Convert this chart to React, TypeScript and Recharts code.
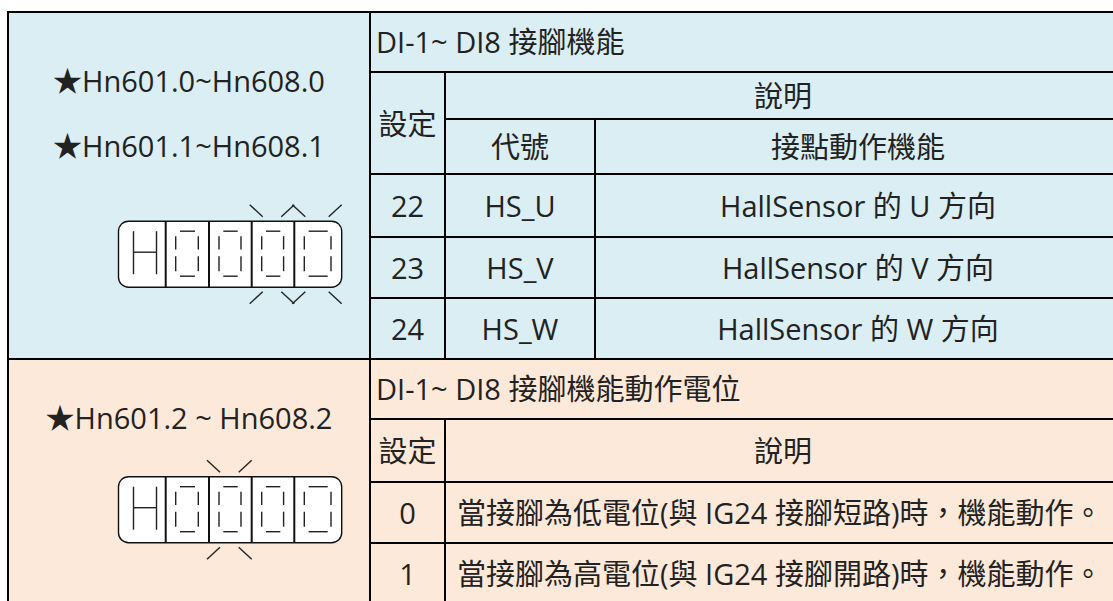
import { ComposedChart, ReferenceArea, ReferenceLine, Scatter, XAxis, YAxis } from "recharts";

const W = 1113;
const H = 601;
const FONT = "'Open Sans', 'Noto Sans CJK TC', sans-serif";
const INK = "#222";

// table content
const upperParams = ["★Hn601.0~Hn608.0", "★Hn601.1~Hn608.1"];
const lowerParams = ["★Hn601.2 ~ Hn608.2"];
const upperTitle = "DI-1~ DI8 接腳機能";
const lowerTitle = "DI-1~ DI8 接腳機能動作電位";
const setHeader = "設定";
const descHeader = "說明";
const codeHeader = "代號";
const funcHeader = "接點動作機能";
const pinSettings = ["22", "23", "24"];
const pinCodes = ["HS_U", "HS_V", "HS_W"];
const pinFunctions = ["HallSensor 的 U 方向", "HallSensor 的 V 方向", "HallSensor 的 W 方向"];
const levelSettings = ["0", "1"];
const levelDescs = [
  "當接腳為低電位(與 IG24 接腳短路)時，機能動作。",
  "當接腳為高電位(與 IG24 接腳開路)時，機能動作。",
];
const panelDigits = ["H", "0", "0", "0", "0"];
const upperBlink = [3, 4];
const lowerBlink = [2];

// grid layout (page px)
const colX = [8, 370, 445, 595, 1121];
const rowY = [12, 72, 119, 174, 237, 298, 359, 419, 482, 543, 604];
const upperParamY = [80, 145];
const lowerParamY = [417];
const panelX = 230.1;
const panelY = [254.2, 509.7];

const mid = (a: number, b: number) => (a + b) / 2;

type Txt = { x: number; y: number; text: string; anchor: "start" | "middle" };

const texts: Txt[] = [
  ...upperParams.map((t, i) => ({ x: mid(colX[0], colX[1]), y: upperParamY[i], text: t, anchor: "middle" as const })),
  ...lowerParams.map((t, i) => ({ x: mid(colX[0], colX[1]), y: lowerParamY[i], text: t, anchor: "middle" as const })),
  { x: colX[1] + 6, y: mid(rowY[0], rowY[1]) - 1, text: upperTitle, anchor: "start" },
  { x: mid(colX[1], colX[2]), y: mid(rowY[1], rowY[3]), text: setHeader, anchor: "middle" },
  { x: mid(colX[2], colX[4]), y: mid(rowY[1], rowY[2]), text: descHeader, anchor: "middle" },
  { x: mid(colX[2], colX[3]), y: mid(rowY[2], rowY[3]), text: codeHeader, anchor: "middle" },
  { x: mid(colX[3], colX[4]), y: mid(rowY[2], rowY[3]), text: funcHeader, anchor: "middle" },
  ...pinSettings.flatMap((s, i) => {
    const y = mid(rowY[3 + i], rowY[4 + i]);
    return [
      { x: mid(colX[1], colX[2]), y, text: s, anchor: "middle" as const },
      { x: mid(colX[2], colX[3]), y, text: pinCodes[i], anchor: "middle" as const },
      { x: mid(colX[3], colX[4]), y, text: pinFunctions[i], anchor: "middle" as const },
    ];
  }),
  { x: colX[1] + 6, y: mid(rowY[6], rowY[7]) - 1, text: lowerTitle, anchor: "start" },
  { x: mid(colX[1], colX[2]), y: mid(rowY[7], rowY[8]), text: setHeader, anchor: "middle" },
  { x: mid(colX[2], colX[4]), y: mid(rowY[7], rowY[8]), text: descHeader, anchor: "middle" },
  ...levelSettings.flatMap((s, i) => {
    const y = mid(rowY[8 + i], rowY[9 + i]);
    return [
      { x: mid(colX[1], colX[2]), y, text: s, anchor: "middle" as const },
      { x: colX[2] + 12, y, text: levelDescs[i], anchor: "start" as const },
    ];
  }),
];

const panels = [
  { x: panelX, y: panelY[0], blink: upperBlink },
  { x: panelX, y: panelY[1], blink: lowerBlink },
];

// border segments: [x1, y1, x2, y2]
const borders: number[][] = [
  [colX[0] - 1, rowY[0], colX[4], rowY[0]],
  [colX[0], rowY[0], colX[0], rowY[10]],
  [colX[1], rowY[0], colX[1], rowY[10]],
  [colX[1], rowY[1], colX[4], rowY[1]],
  [colX[2], rowY[2], colX[4], rowY[2]],
  [colX[1], rowY[3], colX[4], rowY[3]],
  [colX[1], rowY[4], colX[4], rowY[4]],
  [colX[1], rowY[5], colX[4], rowY[5]],
  [colX[0], rowY[6], colX[4], rowY[6]],
  [colX[2], rowY[1], colX[2], rowY[6]],
  [colX[3], rowY[2], colX[3], rowY[6]],
  [colX[1], rowY[7], colX[4], rowY[7]],
  [colX[1], rowY[8], colX[4], rowY[8]],
  [colX[1], rowY[9], colX[4], rowY[9]],
  [colX[2], rowY[7], colX[2], rowY[10]],
];

const TextShape = (p: any) => (
  <text
    x={p.cx}
    y={p.cy}
    lang="zh-Hant-TW"
    textAnchor={p.payload.anchor}
    dominantBaseline="central"
    fontSize={29}
    fontFamily={FONT}
    fill={INK}
  >
    {p.payload.text}
  </text>
);

const cellW = [47.2, 43.3, 42.7, 42.6, 47.4];

function Panel(p: any) {
  const total = cellW.reduce((a, b) => a + b, 0);
  const h = 66;
  const left = p.cx - total / 2;
  const top = p.cy - h / 2;
  const bottom = top + h;
  const edges: number[] = [left];
  cellW.forEach((w) => edges.push(edges[edges.length - 1] + w));
  const parts: any[] = [];

  panelDigits.forEach((d, i) => {
    const L = edges[i];
    const R = edges[i + 1];
    if (d === "H") {
      const a = L + 15;
      const b = L + 38;
      parts.push(
        <line key={`h1${i}`} x1={a} y1={top + 10} x2={a} y2={top + 53} />,
        <line key={`h2${i}`} x1={b} y1={top + 10} x2={b} y2={top + 53} />,
        <line key={`h3${i}`} x1={a} y1={top + 31} x2={b} y2={top + 31} />
      );
    } else {
      const a = L + 10;
      const b = R - 10.7;
      parts.push(
        <line key={`t${i}`} x1={L + 14.3} y1={top + 10} x2={R - 14} y2={top + 10} />,
        <line key={`b${i}`} x1={L + 14.3} y1={top + 55} x2={R - 14} y2={top + 55} />,
        <line key={`ul${i}`} x1={a} y1={top + 15} x2={a} y2={top + 28.3} />,
        <line key={`ll${i}`} x1={a} y1={top + 35} x2={a} y2={top + 50} />,
        <line key={`ur${i}`} x1={b} y1={top + 15} x2={b} y2={top + 28.3} />,
        <line key={`lr${i}`} x1={b} y1={top + 35} x2={b} y2={top + 50} />
      );
    }
    if (p.payload.blink.includes(i)) {
      parts.push(
        <line key={`k1${i}`} x1={L - 2} y1={top - 16.5} x2={L + 11} y2={top - 4.5} />,
        <line key={`k2${i}`} x1={R - 13} y1={top - 4.5} x2={R} y2={top - 16.5} />,
        <line key={`k3${i}`} x1={L - 2} y1={bottom + 16.5} x2={L + 11} y2={bottom + 4.5} />,
        <line key={`k4${i}`} x1={R - 13} y1={bottom + 4.5} x2={R} y2={bottom + 16.5} />
      );
    }
  });

  return (
    <g>
      <rect x={left} y={top} width={total} height={h} rx={10} ry={10} fill="#fff" stroke="#111" strokeWidth={1.4} />
      {edges.slice(1, -1).map((x, i) => (
        <line key={`d${i}`} x1={x} y1={top} x2={x} y2={bottom} stroke="#111" strokeWidth={2} />
      ))}
      <g stroke="#222" strokeWidth={1.4}>{parts}</g>
    </g>
  );
}

export default function App() {
  return (
    <div
      lang="zh-Hant-TW"
      style={{ position: "fixed", left: 0, top: 0, width: W, height: H, overflow: "hidden", background: "#fff" }}
    >
      <ComposedChart width={W} height={H} margin={{ top: 0, right: 0, bottom: 0, left: 0 }}>
        <XAxis type="number" dataKey="x" domain={[0, W]} allowDataOverflow hide />
        <YAxis type="number" dataKey="y" domain={[0, H]} allowDataOverflow reversed hide />
        <ReferenceArea
          x1={colX[0]}
          x2={colX[4]}
          y1={rowY[0]}
          y2={rowY[6]}
          fill="#DAEEF3"
          fillOpacity={1}
          ifOverflow="visible"
        />
        <ReferenceArea
          x1={colX[0]}
          x2={colX[4]}
          y1={rowY[6]}
          y2={rowY[10]}
          fill="#FDE9D9"
          fillOpacity={1}
          ifOverflow="visible"
        />
        {borders.map(([x1, y1, x2, y2], i) => (
          <ReferenceLine
            key={i}
            segment={[
              { x: x1, y: y1 },
              { x: x2, y: y2 },
            ]}
            stroke="#000"
            strokeWidth={2}
            ifOverflow="visible"
          />
        ))}
        <Scatter data={texts} shape={TextShape} isAnimationActive={false} />
        <Scatter data={panels} shape={Panel} isAnimationActive={false} />
      </ComposedChart>
    </div>
  );
}
